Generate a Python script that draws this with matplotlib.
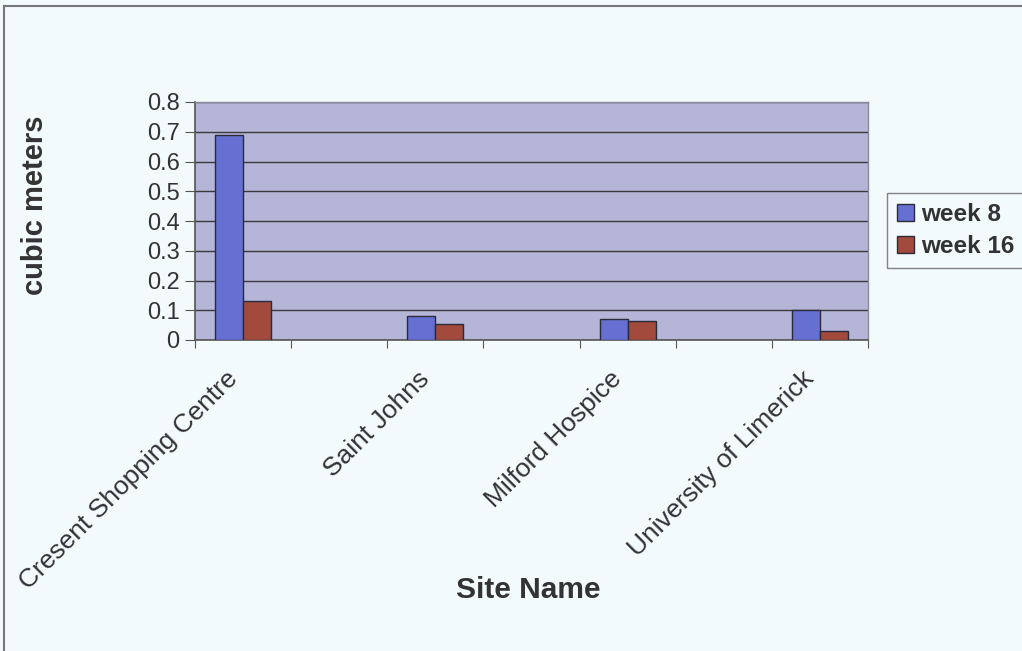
"""Volume per site — week 8 vs week 16 clustered bars (Excel style)."""

import matplotlib

matplotlib.use("Agg")
import matplotlib.pyplot as plt
import numpy as np
from matplotlib.lines import Line2D
from matplotlib.transforms import ScaledTranslation

# Data (blank categories keep the gaps between sites)
categories = [
    "Cresent Shopping Centre",
    "",
    "Saint Johns",
    "",
    "Milford Hospice",
    "",
    "University of Limerick",
]
week8 = [0.69, np.nan, 0.08, np.nan, 0.072, np.nan, 0.10]
week16 = [0.13, np.nan, 0.055, np.nan, 0.065, np.nan, 0.03]
series_names = ["week 8", "week 16"]
y_ticks = [0, 0.1, 0.2, 0.3, 0.4, 0.5, 0.6, 0.7, 0.8]

FIG_BG = "#f3fafc"
PLOT_BG = "#b4b5d7"
BLUE = "#6670d2"
RED = "#a24a3c"
TEXT = "#333333"

plt.rcParams["font.family"] = ["Liberation Sans", "DejaVu Sans"]

fig = plt.figure(figsize=(10.22, 6.51), dpi=100, facecolor=FIG_BG)
ax = fig.add_axes([195 / 1022, 1 - 340 / 651, 673 / 1022, 238 / 651])
ax.set_facecolor(PLOT_BG)

x = np.arange(len(categories))
bw = 0.29
ax.bar(x - bw, week8, width=bw, align="edge", color=BLUE,
       edgecolor="#2a2a3a", linewidth=1.0, label=series_names[0], zorder=3)
ax.bar(x, week16, width=bw, align="edge", color=RED,
       edgecolor="#2a2a3a", linewidth=1.0, label=series_names[1], zorder=3)

# Axes
ax.set_xlim(-0.5, len(categories) - 0.5)
ax.set_ylim(0, 0.8)
ax.set_yticks(y_ticks)
ax.set_yticklabels(["0" if v == 0 else f"{v:.1f}" for v in y_ticks])
ax.yaxis.grid(True, color="#3a3a3a", linewidth=1.0, zorder=1)
ax.set_axisbelow(True)

# boundary ticks (major, unlabeled) + category labels (minor, no tick mark)
ax.set_xticks(np.arange(len(categories) + 1) - 0.5)
ax.set_xticklabels([])
ax.set_xticks(x, minor=True)
ax.set_xticklabels(categories, minor=True, rotation=45, ha="right",
                   va="top", rotation_mode="anchor", fontsize=19, color=TEXT)
ax.tick_params(axis="x", which="major", length=6, color="#555555")
ax.tick_params(axis="x", which="minor", length=0, pad=17)
ax.tick_params(axis="y", length=7, color="#555555", labelsize=17,
               labelcolor=TEXT, pad=4)

# nudge rotated labels a little left, like the Excel original
shift = ScaledTranslation(-0.18, -0.03, fig.dpi_scale_trans)
for lbl in ax.get_xticklabels(minor=True):
    lbl.set_transform(lbl.get_transform() + shift)

for side in ("left", "bottom"):
    ax.spines[side].set_color("#555555")
    ax.spines[side].set_linewidth(1.2)
for side in ("top", "right"):
    ax.spines[side].set_color("#8a8a9a")
    ax.spines[side].set_linewidth(1.0)

# Axis titles
fig.text(35 / 1022, 1 - 205 / 651, "cubic meters", fontsize=21,
         fontweight="bold", color=TEXT, rotation=90, ha="center", va="center")
fig.text(528 / 1022, 1 - 590 / 651, "Site Name", fontsize=21.5,
         fontweight="bold", color=TEXT, ha="center", va="center")

# Legend box hanging off the right edge
leg = fig.legend(loc="upper left", bbox_to_anchor=(887 / 1022, 1 - 193 / 651),
                 frameon=True, fancybox=False, edgecolor="#666666",
                 facecolor=FIG_BG, prop={"size": 17.5, "weight": "bold"},
                 handlelength=0.7, handleheight=0.7, handletextpad=0.3,
                 labelspacing=0.4, borderpad=0.4, borderaxespad=0)
for t in leg.get_texts():
    t.set_color(TEXT)

# Chart frame (top and left edges only visible in the scan)
fig.add_artist(Line2D([4 / 1022, 4 / 1022], [1 - 6 / 651, 0], color="#777777",
                      linewidth=1.5, transform=fig.transFigure))
fig.add_artist(Line2D([4 / 1022, 1], [1 - 6 / 651, 1 - 6 / 651], color="#777777",
                      linewidth=1.5, transform=fig.transFigure))

fig.savefig("out.png", dpi=100, facecolor=FIG_BG)
plt.close(fig)
